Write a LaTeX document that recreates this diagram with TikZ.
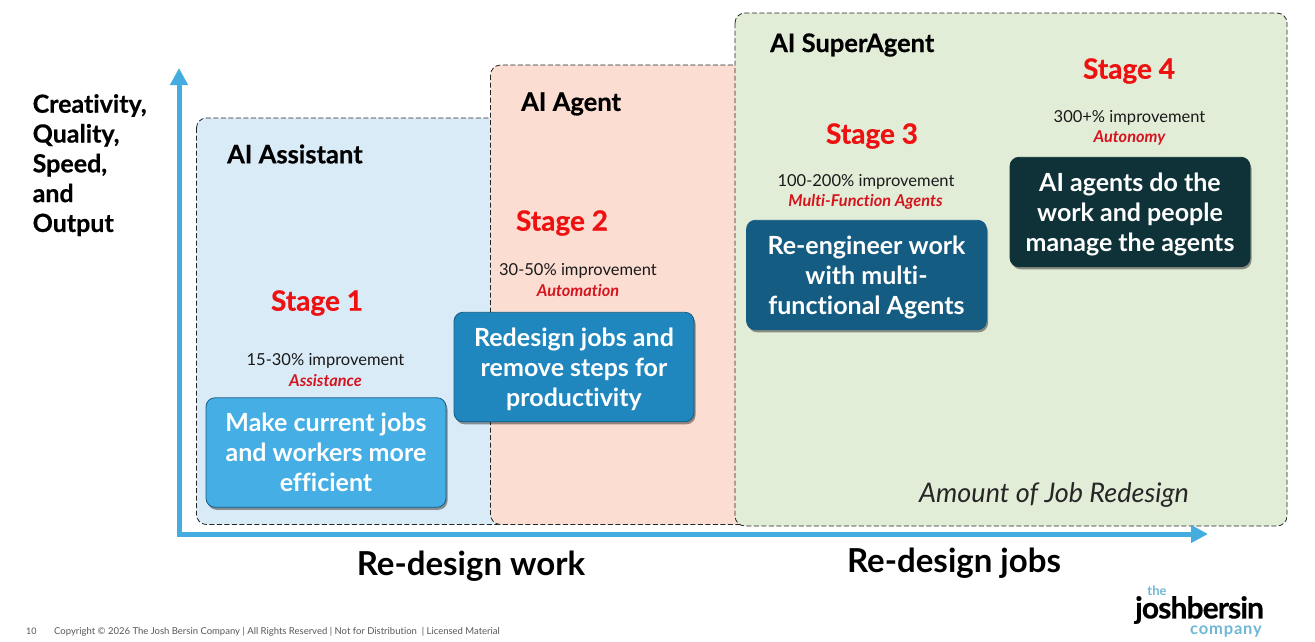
\documentclass[tikz,border=0pt]{standalone}
\usepackage{fontspec}
\setmainfont{Lato}[Ligatures=CommonOff]
\usetikzlibrary{arrows.meta,shadows}
\definecolor{zoneblue}{HTML}{DAEBF8}
\definecolor{zonesalmon}{HTML}{FBDDD2}
\definecolor{zonegreen}{HTML}{E2EDD8}
\definecolor{axisblue}{HTML}{45ACE0}
\definecolor{boxa}{HTML}{45AEE4}
\definecolor{boxb}{HTML}{1F87BE}
\definecolor{boxc}{HTML}{155C83}
\definecolor{boxd}{HTML}{0E3238}
\definecolor{stagered}{HTML}{EE1111}
\definecolor{subred}{HTML}{D5141E}
\definecolor{logoblue}{HTML}{6FB7D6}
\newcommand{\heavy}{\addfontfeature{FakeBold=0.5}}
\newcommand{\lowerbox}{\rule{0pt}{23pt}}
\tikzset{
  x=1pt,y=-1pt,
  zone/.style={draw=black!85,dash pattern=on 5pt off 2.5pt,line width=.8pt,rounded corners=10pt},
  workbox/.style={rounded corners=9pt,minimum width=240pt,minimum height=109.5pt,inner sep=0pt,align=center,
    text=white,font=\fontsize{25}{30}\selectfont\bfseries,
    drop shadow={shadow xshift=1.5pt,shadow yshift=-2.5pt,opacity=.4,fill=black},line width=.8pt},
  stagelabel/.style={text=stagered,font=\fontsize{28}{32}\selectfont\bfseries\heavy,inner sep=0pt},
  improve/.style={align=center,inner sep=0pt,font=\fontsize{16.5}{20}\selectfont,text=black!90},
  mode/.style={inner sep=0pt,text=subred,font=\fontsize{16.3}{20}\selectfont\bfseries\itshape},
  zonelabel/.style={inner sep=0pt,anchor=west,text=black,font=\fontsize{25.5}{28}\selectfont\bfseries\heavy},
  axislabel/.style={inner sep=0pt,text=black,font=\fontsize{33}{38}\selectfont\bfseries},
  axis/.style={draw=axisblue,line width=5pt,-{Triangle[length=17pt,width=17pt]}},
}
\begin{document}
\begin{tikzpicture}
\useasboundingbox (0,0) rectangle (1315,641);
\fill[white] (0,0) rectangle (1315,641);
% zones
\path[zone,fill=zoneblue] (196.5,118) rectangle (510,524.5);
\path[zone,fill=zonesalmon] (490.5,65) rectangle (760,524.5);
\path[zone,fill=zonegreen] (735,13) rectangle (1287,526);
% axes
\coordinate (ytip) at (179,68);
\coordinate (xtip) at (1208,534);
\draw[axis] (179,536.5) -- (ytip);
\draw[axis] (176.5,534) -- (xtip);
% zone labels
\node[zonelabel] (zA) at (227,154) {AI Assistant};
\node[zonelabel] (zB) at (521,104) {AI Agent};
\node[zonelabel] (zC) at (770,45) {AI SuperAgent};
% y label
\node[inner sep=0pt,anchor=north west,align=left,text=black,font=\fontsize{25}{29.8}\selectfont\bfseries\heavy] (ylab) at (32.5,94) {Creativity,\\Quality,\\Speed,\\and\\Output};
% stage 1
\node[stagelabel] (s1) at (317,303) {Stage 1};
\node[improve] (i1) at (325.5,361) {15-30\% improvement};
\node[mode] (m1) at (325.5,381) {Assistance};
\node[workbox,draw=boxb!70!black,fill=boxa] (b1) at (326,452.5) {Make current jobs\\and workers more\\efficient};
% stage 2
\node[stagelabel] (s2) at (562,223) {Stage 2};
\node[improve] (i2) at (578,271) {30-50\% improvement};
\node[mode] (m2) at (578,291) {Automation};
\node[workbox,draw=boxc,fill=boxb] (b2) at (574,367) {\lowerbox Redesign jobs and\\remove steps for\\productivity};
% stage 3
\node[stagelabel] (s3) at (872,136) {Stage 3};
\node[improve] (i3) at (866,182) {100-200\% improvement};
\node[mode] (m3) at (865.5,202) {Multi-Function Agents};
\node[workbox,draw=boxc,fill=boxc] (b3) at (866.5,275) {\lowerbox Re-engineer work\\with multi-\\functional Agents};
% stage 4
\node[stagelabel] (s4) at (1129,71) {Stage 4};
\node[improve] (i4) at (1129.5,118) {300+\% improvement};
\node[mode] (m4) at (1129.5,138) {Autonomy};
\node[workbox,draw=boxd,fill=boxd] (b4) at (1130,212) {\lowerbox AI agents do the\\work and people\\manage the agents};
% captions
\node[inner sep=0pt,text=black!85,font=\fontsize{27}{32}\selectfont\itshape] (amt) at (1054,495) {Amount of Job Redesign};
\node[axislabel] (w) at (471,566.5) {Re-design work};
\node[axislabel] (j) at (954,563.5) {Re-design jobs};
% footer
\node[inner sep=0pt,anchor=west,text=black!65,font=\fontsize{9}{11}\selectfont] (pg) at (26,631.5) {10};
\node[inner sep=0pt,anchor=west,text=black!65,font=\fontsize{9.5}{11}\selectfont] (cp) at (54,631.5) {Copyright © 2026 The Josh Bersin Company | All Rights Reserved | Not for Distribution ~| Licensed Material};
% logo
\node[inner sep=0pt,text=logoblue,font=\fontsize{13}{15}\selectfont\bfseries] (lt) at (1157,591) {the};
\node[inner sep=0pt,text=black,font=\fontsize{30}{30}\selectfont\bfseries\heavy] (lj) at (1199.5,610) {\addfontfeature{LetterSpace=-3}joshbersin};
\node[inner sep=0pt,text=logoblue,font=\fontsize{16.5}{17}\selectfont\bfseries] (lc) at (1226,632) {\addfontfeature{LetterSpace=5}company};
\end{tikzpicture}
\end{document}
